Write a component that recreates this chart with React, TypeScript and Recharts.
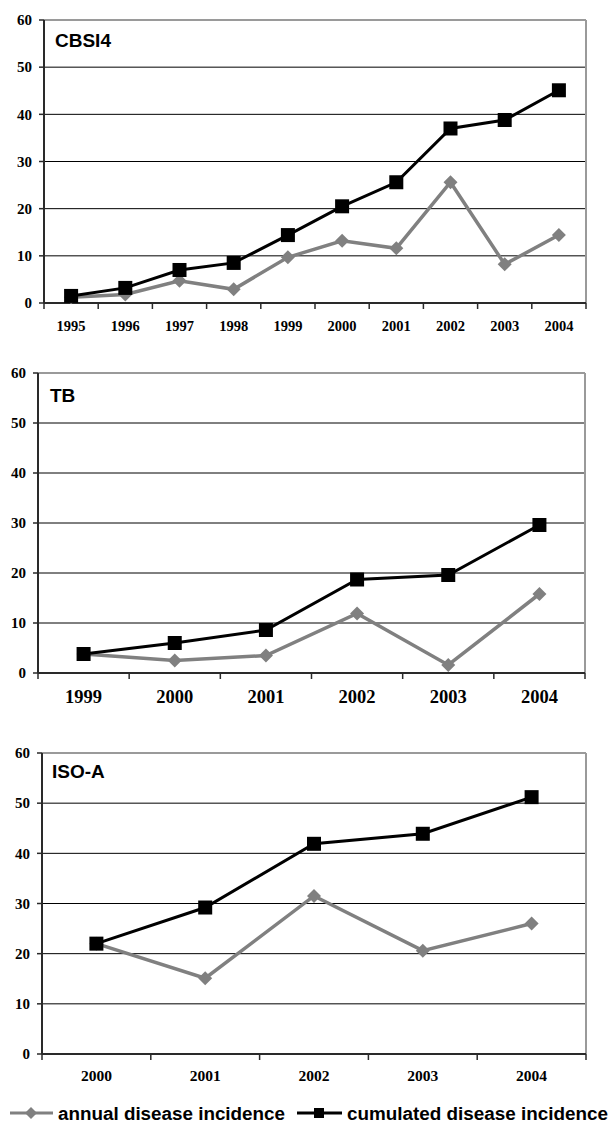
import {
  CartesianGrid,
  Line,
  LineChart,
  ReferenceLine,
  XAxis,
  YAxis,
} from "recharts";

const CBSI4_YEARS = ["1995", "1996", "1997", "1998", "1999", "2000", "2001", "2002", "2003", "2004"];
const CBSI4_ANNUAL = [1.2, 1.8, 4.7, 2.9, 9.7, 13.2, 11.6, 25.6, 8.2, 14.4];
const CBSI4_CUMULATED = [1.5, 3.2, 7.0, 8.5, 14.4, 20.5, 25.6, 37.0, 38.8, 45.1];

const TB_YEARS = ["1999", "2000", "2001", "2002", "2003", "2004"];
const TB_ANNUAL = [3.8, 2.5, 3.5, 11.9, 1.6, 15.8];
const TB_CUMULATED = [3.8, 6.0, 8.6, 18.7, 19.6, 29.6];

const ISOA_YEARS = ["2000", "2001", "2002", "2003", "2004"];
const ISOA_ANNUAL = [22.0, 15.1, 31.5, 20.6, 26.0];
const ISOA_CUMULATED = [22.0, 29.2, 41.9, 43.9, 51.2];

const Y_TICKS = [0, 10, 20, 30, 40, 50, 60];
const GRID_VALUES = [10, 20, 30, 40, 50];
const LEGEND_LABELS = ["annual disease incidence", "cumulated disease incidence"];

const WIDTH = 613;
const ANNUAL = "#808080";
const CUMULATED = "#000000";
const AXIS = "#2a2a2a";
const BORDER = "#9a9a9a";
const SERIF = "'Liberation Serif', 'Times New Roman', serif";
const SANS = "'Liberation Sans', Arial, sans-serif";

function Square(props: any) {
  const { cx, cy } = props;
  if (cx == null || cy == null) return null;
  return <rect x={cx - 7} y={cy - 7} width={14} height={14} fill={CUMULATED} />;
}

function Diamond(props: any) {
  const { cx, cy } = props;
  if (cx == null || cy == null) return null;
  const r = 7;
  return (
    <polygon
      points={`${cx},${cy - r} ${cx + r},${cy} ${cx},${cy + r} ${cx - r},${cy}`}
      fill={ANNUAL}
    />
  );
}

interface PanelProps {
  title: string;
  years: string[];
  annual: number[];
  cumulated: number[];
  top: number;
  height: number;
  plotTop: number;
  plotBottom: number;
  left: number;
  right: number;
  xFont: number;
  xDy: number;
  titleLeft: number;
  titleBaseline: number;
}

function Panel({
  title,
  years,
  annual,
  cumulated,
  top,
  height,
  plotTop,
  plotBottom,
  left,
  right,
  xFont,
  xDy,
  titleLeft,
  titleBaseline,
}: PanelProps) {
  const rows = years.map((year, i) => ({
    year,
    annual: annual[i],
    cumulated: cumulated[i],
  }));
  const band = (WIDTH - left - right) / years.length;

  // Excel-style category axis: tick marks sit between categories.
  const renderXTick = (props: any) => {
    const { x, y, payload, index } = props;
    return (
      <g>
        <line x1={x - band / 2} x2={x - band / 2} y1={y} y2={y + 6} stroke={AXIS} strokeWidth={1.5} />
        {index === years.length - 1 && (
          <line x1={x + band / 2} x2={x + band / 2} y1={y} y2={y + 6} stroke={AXIS} strokeWidth={1.5} />
        )}
        <text
          x={x}
          y={y + xDy}
          textAnchor="middle"
          fontFamily={SERIF}
          fontWeight={700}
          fontSize={xFont}
          fill="#000"
        >
          {payload.value}
        </text>
      </g>
    );
  };

  return (
    <div style={{ position: "absolute", left: 0, top, width: WIDTH, height }}>
      <LineChart
        width={WIDTH}
        height={height}
        data={rows}
        margin={{ top: plotTop, right, bottom: 0, left: 0 }}
      >
        <CartesianGrid
          vertical={false}
          horizontalValues={GRID_VALUES}
          stroke="#000"
          strokeWidth={1}
        />
        <CartesianGrid
          horizontal={false}
          verticalCoordinatesGenerator={({ offset }: any) => [offset.left + offset.width]}
          stroke={BORDER}
          strokeWidth={2}
        />
        <ReferenceLine y={60} stroke={BORDER} strokeWidth={2} />
        <XAxis
          dataKey="year"
          scale="band"
          height={height - plotBottom}
          tickSize={0}
          tickMargin={0}
          interval={0}
          axisLine={{ stroke: AXIS, strokeWidth: 2 }}
          tick={renderXTick}
        />
        <YAxis
          domain={[0, 60]}
          ticks={Y_TICKS}
          interval={0}
          width={left}
          tickSize={5}
          tickMargin={7}
          axisLine={{ stroke: AXIS, strokeWidth: 2 }}
          tickLine={{ stroke: AXIS, strokeWidth: 1.5 }}
          tick={{ fontFamily: SERIF, fontWeight: 700, fontSize: 15, fill: "#000" }}
        />
        <Line
          type="linear"
          dataKey="annual"
          stroke={ANNUAL}
          strokeWidth={3.5}
          dot={<Diamond />}
          activeDot={false}
          isAnimationActive={false}
        />
        <Line
          type="linear"
          dataKey="cumulated"
          stroke={CUMULATED}
          strokeWidth={3}
          dot={<Square />}
          activeDot={false}
          isAnimationActive={false}
        />
      </LineChart>
      <div
        style={{
          position: "absolute",
          left: titleLeft,
          top: titleBaseline - 16,
          fontFamily: SANS,
          fontWeight: 700,
          fontSize: 19,
          lineHeight: "19px",
        }}
      >
        {title}
      </div>
    </div>
  );
}

function Legend() {
  return (
    <svg
      width={WIDTH}
      height={30}
      style={{ position: "absolute", left: 0, top: 1095 }}
    >
      <line x1={10} x2={53} y1={18} y2={18} stroke={ANNUAL} strokeWidth={3} />
      <polygon points="31,12 37,18 31,24 25,18" fill={ANNUAL} />
      <text
        x={58}
        y={25}
        fontFamily={SANS}
        fontWeight={700}
        fontSize={18}
        fill="#000"
        textLength={227}
        lengthAdjust="spacingAndGlyphs"
      >
        {LEGEND_LABELS[0]}
      </text>
      <line x1={297} x2={342} y1={18} y2={18} stroke={CUMULATED} strokeWidth={3} />
      <rect x={314} y={13} width={10} height={10} fill={CUMULATED} />
      <text
        x={347}
        y={25}
        fontFamily={SANS}
        fontWeight={700}
        fontSize={18}
        fill="#000"
        textLength={261}
        lengthAdjust="spacingAndGlyphs"
      >
        {LEGEND_LABELS[1]}
      </text>
    </svg>
  );
}

export default function App() {
  return (
    <div style={{ position: "relative", width: WIDTH, height: 1123, background: "#fff" }}>
      <style>{"body{margin:0}"}</style>
      <Panel
        title="CBSI4"
        years={CBSI4_YEARS}
        annual={CBSI4_ANNUAL}
        cumulated={CBSI4_CUMULATED}
        top={0}
        height={345}
        plotTop={20}
        plotBottom={303}
        left={44}
        right={27}
        xFont={14.5}
        xDy={28}
        titleLeft={55}
        titleBaseline={47}
      />
      <Panel
        title="TB"
        years={TB_YEARS}
        annual={TB_ANNUAL}
        cumulated={TB_CUMULATED}
        top={352}
        height={360}
        plotTop={21}
        plotBottom={321}
        left={38}
        right={28}
        xFont={18.5}
        xDy={30}
        titleLeft={50}
        titleBaseline={50}
      />
      <Panel
        title="ISO-A"
        years={ISOA_YEARS}
        annual={ISOA_ANNUAL}
        cumulated={ISOA_CUMULATED}
        top={733}
        height={360}
        plotTop={20}
        plotBottom={321}
        left={42}
        right={27}
        xFont={15.5}
        xDy={27}
        titleLeft={52}
        titleBaseline={45}
      />
      <Legend />
    </div>
  );
}
